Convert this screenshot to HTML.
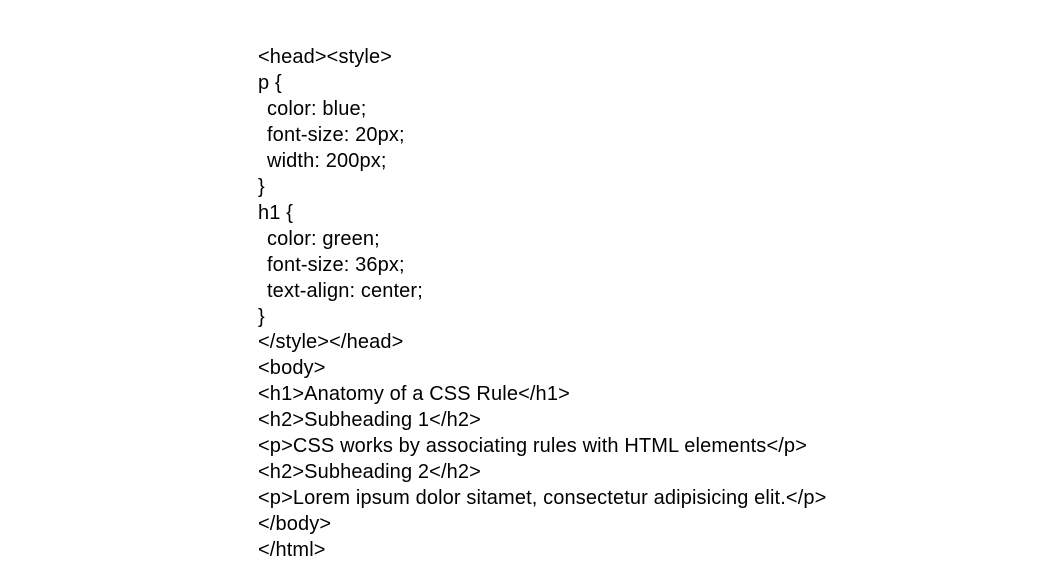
<!DOCTYPE html>
<html><head><style>
html,body{margin:0;padding:0;background:#fff;width:1039px;height:584px;overflow:hidden}
.c{position:absolute;left:258px;top:45px;font-family:"Liberation Sans",sans-serif;font-size:20px;line-height:25.95px;letter-spacing:0.13px;color:#000;white-space:pre}
.i{padding-left:9px}
</style></head><body>
<div class="c">&lt;head&gt;&lt;style&gt;
p {
<span class="i">color: blue;</span>
<span class="i">font-size: 20px;</span>
<span class="i">width: 200px;</span>
}
h1 {
<span class="i">color: green;</span>
<span class="i">font-size: 36px;</span>
<span class="i">text-align: center;</span>
}
&lt;/style&gt;&lt;/head&gt;
&lt;body&gt;
&lt;h1&gt;Anatomy of a CSS Rule&lt;/h1&gt;
&lt;h2&gt;Subheading 1&lt;/h2&gt;
&lt;p&gt;CSS works by associating rules with HTML elements&lt;/p&gt;
&lt;h2&gt;Subheading 2&lt;/h2&gt;
&lt;p&gt;Lorem ipsum dolor sitamet, consectetur adipisicing elit.&lt;/p&gt;
&lt;/body&gt;
&lt;/html&gt;</div>
</body></html>
